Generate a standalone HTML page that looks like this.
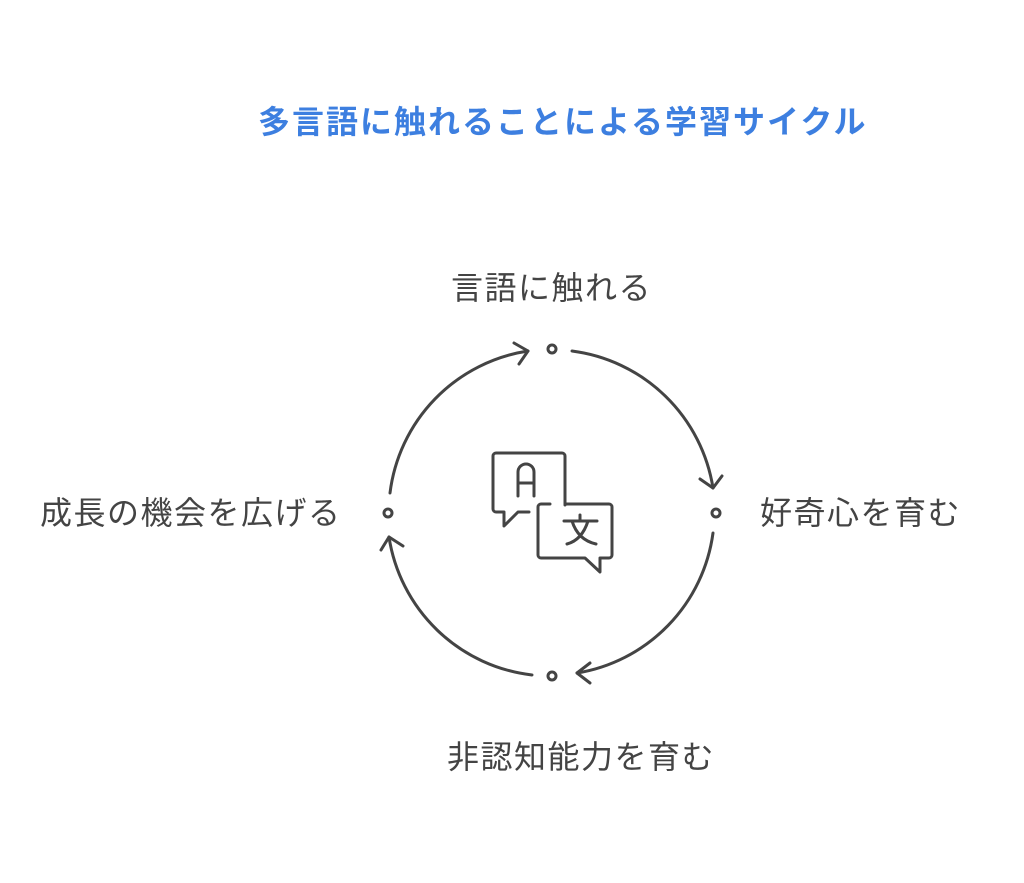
<!DOCTYPE html>
<html><head><meta charset="utf-8"><style>
html,body{margin:0;padding:0;background:#fff;width:1024px;height:883px;overflow:hidden}
.t{position:absolute;font-family:"Liberation Sans","Noto Sans CJK JP",sans-serif;white-space:nowrap;line-height:1}
.l{font-size:32px;color:#444;letter-spacing:1.5px}
</style></head><body>
<div class="t" style="left:258px;top:106px;font-size:32px;font-weight:bold;color:#3d7fe0;letter-spacing:2px">多言語に触れることによる学習サイクル</div>
<div class="t l" style="left:451px;top:272px">言語に触れる</div>
<div class="t l" style="left:760px;top:497px">好奇心を育む</div>
<div class="t l" style="left:40px;top:497px">成長の機会を広げる</div>
<div class="t l" style="left:447px;top:741px">非認知能力を育む</div>
<svg width="1024" height="883" style="position:absolute;left:0;top:0" fill="none" stroke="#444" stroke-width="3" stroke-linecap="round" stroke-linejoin="round">
<circle cx="552" cy="349" r="4"/><circle cx="388" cy="513" r="4"/><circle cx="716" cy="513" r="4"/><circle cx="552" cy="676" r="4"/>
<path d="M390 493 A164 164 0 0 1 528 351"/><path d="M514 343 L528 351 L519 364"/>
<path d="M572 351 A164 164 0 0 1 713 488"/><path d="M700 479 L713 488 L722 476"/>
<path d="M713 533 A164 164 0 0 1 577 673"/><path d="M590 663 L577 673 L590 683"/>
<path d="M532 675 A164 164 0 0 1 389 537"/><path d="M381 550 L389 537 L403 546"/>
<path d="M565 505 V456 a3 3 0 0 0 -3 -3 H496 a3 3 0 0 0 -3 3 V509 a3 3 0 0 0 3 3 H504 V526 L518 512 H529"/>
<path d="M518 496 V472 a8 8 0 0 1 16 0 V496 M518 483 H534"/>
<path d="M550 504 H541 a3 3 0 0 0 -3 3 V555 a3 3 0 0 0 3 3 H585 L600 572 V558 H609 a3 3 0 0 0 3 -3 V507 a3 3 0 0 0 -3 -3 H565"/>
<path d="M564 521 H597 M580 515 V521 M572 521 Q578 540 596 544 M588 521 Q582 540 567 544"/>
</svg>
</body></html>
